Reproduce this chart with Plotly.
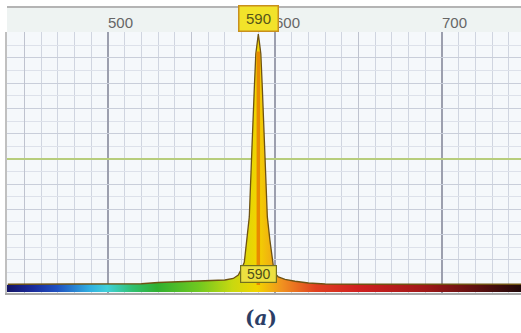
import plotly.graph_objects as go

# ---------------- data ----------------
wavelength = [440, 480, 500, 520, 530, 545, 560, 570, 575, 578, 580, 581.6, 583.1,
              584.6, 586.1, 586.4, 587.6, 588.5, 589.5, 590, 590.5, 591.5, 592.4,
              593.6, 593.9, 595.4, 596.9, 598.4, 599.5, 602, 606, 612, 620, 630,
              650, 748]
intensity = [0.3, 0.3, 0.4, 0.5, 1.0, 1.3, 1.6, 2.0, 2.6, 4.0, 6.5, 9, 18,
             27, 53, 60, 78, 91.7, 97, 99.5, 97, 91.7, 78,
             60, 53, 27, 18, 9, 5, 3.2, 2.2, 1.5, 0.8, 0.4,
             0.3, 0.3]
peak_wl = 590
peak_label = "590"
bar_wl = [439.5, 747.3]
bar_depth = [-2.8, -2.8]
tick_vals = [500, 600, 700]
tick_text = ["500", "600", "700"]
caption = "<b>(<i>a</i>)</b>"

X_RANGE = [439.5, 747.3]
Y_RANGE = [-3.16, 100.3]

spectrum_scale = [
    [0.000, "#141466"], [0.049, "#1a2a9a"], [0.097, "#1f50c0"],
    [0.162, "#30b0e0"], [0.195, "#40d0d8"], [0.244, "#30c070"],
    [0.292, "#30b030"], [0.373, "#70c820"], [0.438, "#c8d810"],
    [0.487, "#f2d400"], [0.536, "#f09020"], [0.601, "#e04020"],
    [0.682, "#d02020"], [0.812, "#a01818"], [0.909, "#601010"],
    [1.000, "#200808"],
]

fig = go.Figure()

# spectrum curve
fig.add_trace(go.Scatter(
    x=wavelength, y=intensity, mode="lines", fill="tozeroy",
    line=dict(color="#6e5212", width=1.3),
    fillgradient=dict(type="horizontal", colorscale=spectrum_scale,
                      start=X_RANGE[0], stop=X_RANGE[1]),
    hoverinfo="skip", showlegend=False,
))
# orange core line at the peak
fig.add_trace(go.Scatter(
    x=[peak_wl, peak_wl], y=[0, max(intensity) * 0.93], mode="lines",
    line=dict(color="#e88a00", width=3.5), hoverinfo="skip", showlegend=False,
))
# rainbow bar along the bottom
fig.add_trace(go.Scatter(
    x=bar_wl, y=bar_depth, mode="lines", fill="tozeroy",
    line=dict(width=0, color="rgba(0,0,0,0)"),
    fillgradient=dict(type="horizontal", colorscale=spectrum_scale,
                      start=X_RANGE[0], stop=X_RANGE[1]),
    xaxis="x2", yaxis="y2", hoverinfo="skip", showlegend=False,
))

plot_h = 261
fig.update_layout(
    width=521, height=333,
    margin=dict(l=7, r=0, t=32, b=40),
    paper_bgcolor="white", plot_bgcolor="#f5f8fb",
    font=dict(family="Liberation Sans", color="#666666"),
    xaxis=dict(
        range=X_RANGE, side="top", tickvals=tick_vals, ticktext=tick_text,
        ticks="", ticklabelposition="outside right",
        tickfont=dict(size=15, color="#666666"),
        showgrid=True, gridcolor="#9c9fae", gridwidth=1.5,
        minor=dict(dtick=10, tick0=0, showgrid=True, gridcolor="#d0d5e0", gridwidth=1),
        zeroline=False, showline=False, fixedrange=True,
    ),
    xaxis2=dict(
        range=X_RANGE, overlaying="x", side="bottom",
        tickvals=[450, 550, 650], showticklabels=False, ticks="",
        showgrid=True, gridcolor="#bfc3cf", gridwidth=1,
        showline=True, linecolor="#a8a8a8", linewidth=2, zeroline=False,
    ),
    yaxis=dict(
        range=Y_RANGE, dtick=10, tick0=0, showticklabels=False, ticks="",
        showgrid=True, gridcolor="#c9ceda", gridwidth=1,
        minor=dict(dtick=5, tick0=0, showgrid=True, gridcolor="#dde1ea", gridwidth=1),
        zeroline=False, showline=True, linecolor="#c0c0c0", linewidth=1.5,
    ),
    yaxis2=dict(
        range=Y_RANGE, overlaying="y", tickvals=[50, 100], showticklabels=False,
        ticks="", showgrid=True, gridcolor="#b7cd7c", gridwidth=1.6, zeroline=False,
    ),
    shapes=[
        dict(type="rect", xref="paper", yref="paper", x0=0, x1=1,
             y0=1, y1=1 + 25 / plot_h, fillcolor="#eef3f2", line=dict(width=0),
             layer="below"),
        dict(type="line", xref="paper", yref="paper", x0=0, x1=1,
             y0=1 + 25 / plot_h, y1=1 + 25 / plot_h,
             line=dict(color="#b4b4b4", width=2)),
    ],
    annotations=[
        dict(x=peak_wl, xref="x", y=1, yref="paper", yanchor="bottom",
             text=peak_label, showarrow=False,
             font=dict(size=15, color="#55551a", family="Liberation Sans"),
             bgcolor="#f2e32a", bordercolor="#c8901c", borderwidth=1.5,
             borderpad=2, width=34, height=20),
        dict(x=peak_wl, xref="x", y=4.5, yref="y", yanchor="middle",
             text=peak_label, showarrow=False,
             font=dict(size=14, color="#4e4e1a", family="Liberation Sans"),
             bgcolor="#ece040", bordercolor="#707020", borderwidth=1.2,
             borderpad=1, width=33, height=14),
        dict(x=0.494, xref="paper", y=-25 / plot_h, yref="paper", yanchor="middle",
             text=caption, showarrow=False,
             font=dict(size=20, color="#2c3e66", family="DejaVu Serif")),
    ],
)

fig.write_html("out.html")
